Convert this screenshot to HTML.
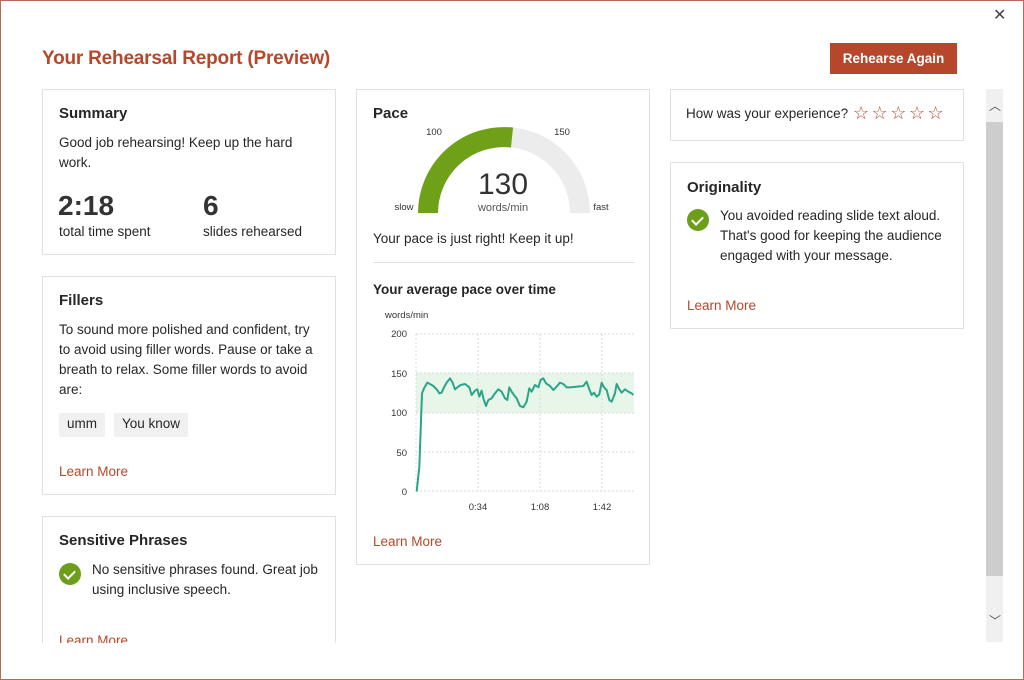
<!DOCTYPE html>
<html><head><meta charset="utf-8"><style>
*{margin:0;padding:0;box-sizing:border-box}
body{width:1024px;height:680px;background:#fff;font-family:"Liberation Sans",sans-serif;color:#262626;position:relative;overflow:hidden}
.frame{position:absolute;left:0;top:0;width:1024px;height:680px;border:1px solid #b56a55;z-index:5;pointer-events:none}
.clip{position:absolute;left:0;top:0;width:1024px;height:643px;overflow:hidden}
.a{position:absolute}
.card{position:absolute;border:1px solid #e1e1e1;background:#fff}
.h{font-size:15px;font-weight:bold;color:#262626;position:absolute}
.t{font-size:13.5px;line-height:20px;color:#262626;position:absolute}
.lm{font-size:13.5px;color:#b7472a;position:absolute}
.chk{position:absolute;width:22px;height:22px;border-radius:50%;background:#6c9e19}
.chk:after{content:"";position:absolute;left:7px;top:5px;width:5px;height:9px;border:solid #fff;border-width:0 2px 2px 0;transform:rotate(45deg)}
.tag{position:absolute;background:#f0f0f0;font-size:13.5px;padding:3px 8px;height:24px}
</style></head><body>
<div class="frame"></div>
<div class="a" style="left:993px;top:5px;font-size:16px;color:#444">✕</div>
<div class="a" style="left:42px;top:48px;font-size:19px;color:#b7472a;font-weight:bold;letter-spacing:-0.2px">Your Rehearsal Report (Preview)</div>
<div class="a" style="left:830px;top:43px;width:127px;height:31px;background:#b7472a;color:#fff;font-size:13.5px;font-weight:bold;text-align:center;line-height:31px">Rehearse Again</div>
<div class="clip">
<div class="card" style="left:42px;top:89px;width:294px;height:166px"></div>
<div class="h" style="left:59px;top:105px">Summary</div>
<div class="t" style="left:59px;top:133px;width:260px">Good job rehearsing! Keep up the hard work.</div>
<div class="a" style="left:58px;top:190px;font-size:28px;font-weight:bold;color:#333">2:18</div>
<div class="a" style="left:203px;top:190px;font-size:28px;font-weight:bold;color:#333">6</div>
<div class="t" style="left:59px;top:222px">total time spent</div>
<div class="t" style="left:203px;top:222px">slides rehearsed</div>

<div class="card" style="left:42px;top:276px;width:294px;height:219px"></div>
<div class="h" style="left:59px;top:292px">Fillers</div>
<div class="t" style="left:59px;top:320px;width:265px">To sound more polished and confident, try to avoid using filler words. Pause or take a breath to relax. Some filler words to avoid are:</div>
<div class="tag" style="left:59px;top:413px">umm</div>
<div class="tag" style="left:114px;top:413px">You know</div>
<div class="lm" style="left:59px;top:464px">Learn More</div>

<div class="card" style="left:42px;top:516px;width:294px;height:160px"></div>
<div class="h" style="left:59px;top:532px">Sensitive Phrases</div>
<div class="chk" style="left:59px;top:563px"></div>
<div class="t" style="left:92px;top:560px;width:240px">No sensitive phrases found. Great job using inclusive speech.</div>
<div class="lm" style="left:59px;top:633px">Learn More</div>

<div class="card" style="left:356px;top:89px;width:294px;height:476px"></div>
<div class="h" style="left:373px;top:105px">Pace</div>
<svg class="a" style="left:356px;top:89px" width="294" height="140">
<path d="M72 124 A76 76 0 0 1 224 124" fill="none" stroke="#ececec" stroke-width="20"/>
<path d="M72 124 A76 76 0 0 1 156 48.5" fill="none" stroke="#6fa118" stroke-width="20"/>
<text x="78" y="46" font-size="9.5" text-anchor="middle" fill="#333" font-family="Liberation Sans">100</text>
<text x="206" y="46" font-size="9.5" text-anchor="middle" fill="#333" font-family="Liberation Sans">150</text>
<text x="48" y="121" font-size="9.5" text-anchor="middle" fill="#333" font-family="Liberation Sans">slow</text>
<text x="245" y="121" font-size="9.5" text-anchor="middle" fill="#333" font-family="Liberation Sans">fast</text>
<text x="147" y="105" font-size="30" text-anchor="middle" fill="#333" font-family="Liberation Sans">130</text>
<text x="147" y="122" font-size="11" text-anchor="middle" fill="#555" font-family="Liberation Sans">words/min</text>
</svg>
<div class="t" style="left:373px;top:229px">Your pace is just right! Keep it up!</div>
<div class="a" style="left:373px;top:262px;width:262px;height:1px;background:#e1e1e1"></div>
<div class="h" style="left:373px;top:282px;font-size:13.5px">Your average pace over time</div>
<svg class="a" style="left:356px;top:300px" width="294" height="220" font-family="Liberation Sans" font-size="9.5" fill="#333">
<text x="29" y="18">words/min</text>
<rect x="60" y="73" width="218" height="40" fill="#e8f6ea"/>
<g stroke="#d8d8d8" stroke-dasharray="2,2" stroke-width="1">
<line x1="60" y1="34" x2="278" y2="34"/><line x1="60" y1="73" x2="278" y2="73"/><line x1="60" y1="113" x2="278" y2="113"/><line x1="60" y1="152" x2="278" y2="152"/><line x1="60" y1="191" x2="278" y2="191"/>
<line x1="60" y1="34" x2="60" y2="191"/><line x1="122" y1="34" x2="122" y2="191"/><line x1="184" y1="34" x2="184" y2="191"/><line x1="246" y1="34" x2="246" y2="191"/>
</g>
<text x="51" y="37" text-anchor="end">200</text><text x="51" y="77" text-anchor="end">150</text><text x="51" y="116" text-anchor="end">100</text><text x="51" y="156" text-anchor="end">50</text><text x="51" y="195" text-anchor="end">0</text>
<text x="122" y="210" text-anchor="middle">0:34</text><text x="184" y="210" text-anchor="middle">1:08</text><text x="246" y="210" text-anchor="middle">1:42</text>
<g transform="translate(14,0) scale(0.3333)">
<polyline fill="none" stroke="#2aa58a" stroke-width="6" stroke-linejoin="round" points="140,575 148,500 156,280 162,265 172,248 180,252 190,258 200,268 208,280 215,278 222,262 230,248 240,235 248,248 255,268 262,262 272,255 285,252 298,262 305,285 315,272 322,268 328,290 335,272 340,295 348,318 355,300 365,295 375,280 385,268 395,275 405,295 412,300 418,262 425,275 432,285 440,295 450,318 460,322 470,305 478,265 485,275 495,255 505,262 512,240 520,235 528,250 540,258 550,270 560,260 570,248 580,252 590,262 600,262 640,258 650,245 658,268 665,285 672,278 680,290 688,283 695,248 702,262 710,270 718,300 725,305 735,280 740,252 748,268 755,278 765,268 775,275 785,280 790,285"/>
</g>
</svg>
<div class="lm" style="left:373px;top:534px">Learn More</div>

<div class="card" style="left:670px;top:89px;width:294px;height:52px"></div>
<div class="t" style="left:686px;top:104px">How was your experience?</div>
<div class="a" style="left:853px;top:102px;font-size:18px;line-height:22px;color:#b7472a;letter-spacing:2.5px">☆☆☆☆☆</div>
<div class="card" style="left:670px;top:162px;width:294px;height:167px"></div>
<div class="h" style="left:687px;top:179px">Originality</div>
<div class="chk" style="left:687px;top:209px"></div>
<div class="t" style="left:720px;top:206px;width:240px">You avoided reading slide text aloud. That's good for keeping the audience engaged with your message.</div>
<div class="lm" style="left:687px;top:298px">Learn More</div>
</div>
<div class="a" style="left:986px;top:89px;width:17px;height:553px;background:#f0f0f0"></div>
<div class="a" style="left:986px;top:122px;width:17px;height:454px;background:#cdcdcd"></div>
<div class="a" style="left:989px;top:97px;font-size:12px;color:#555">︿</div>
<div class="a" style="left:989px;top:612px;font-size:12px;color:#555">﹀</div>
</body></html>
